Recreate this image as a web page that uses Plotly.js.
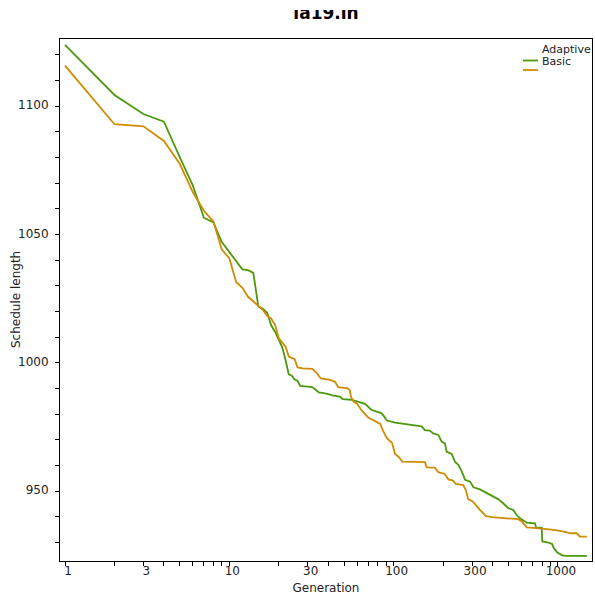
<!DOCTYPE html>
<html>
<head>
<meta charset="utf-8">
<script src="https://cdn.plot.ly/plotly-3.0.1.min.js"></script>
<style>
  html, body { margin: 0; padding: 0; background: #fff; overflow: hidden; }
  #wrap { position: relative; width: 595px; height: 601px; overflow: hidden; }
  #chart { width: 595px; height: 606px; margin-top: -5px; }
  #topmask { position: absolute; left: 0; top: 0; width: 595px; height: 10px; background: #fff; }
</style>
</head>
<body>
<div id="wrap">
  <div id="chart"></div>
  <div id="topmask"></div>
</div>
<script>
// ---- data ----
const adaptiveGen = [1, 2, 3, 4, 5, 6, 7, 8, 9, 10, 12, 13, 14, 15, 16, 17, 18, 19, 21, 22, 23, 24, 25, 26, 27, 32, 35, 39, 43, 47, 49, 55, 60, 67, 73, 84, 87, 91, 102, 131, 148, 155, 166, 174, 187, 196, 205, 210, 226, 236, 248, 260, 272, 292, 306, 335, 367, 403, 432, 464, 498, 535, 561, 587, 645, 725, 735, 796, 802, 875, 921, 944, 991, 1062, 1110, 1500];
const adaptiveLen = [1123.8, 1104.3, 1096.9, 1093.9, 1080, 1069, 1056.5, 1054.7, 1047, 1043, 1036.4, 1036.1, 1035, 1022, 1021, 1019.5, 1014.5, 1012, 1006, 1001, 995.5, 995, 993.5, 993, 991, 990.5, 988.5, 988, 987.2, 986.8, 985.8, 985.6, 985, 984, 981.7, 980.4, 979.3, 977.5, 976.7, 975.8, 975.2, 973.8, 973.6, 972.5, 971.9, 969.3, 968.6, 965.4, 964.4, 961.5, 960.2, 957.6, 954.4, 953.7, 951.5, 950.7, 949.4, 947.9, 946.9, 945.3, 943.4, 942.7, 940.7, 939.4, 937.7, 937.5, 935.9, 935.8, 930.4, 930, 929.4, 927.8, 926.1, 925, 924.8, 924.8];

const basicGen = [1, 2, 3, 4, 5, 6, 7, 8, 9, 10, 11, 12, 13, 14, 16, 17, 18, 19, 20, 22, 23, 25, 26, 28, 32, 34, 36, 41, 44, 46, 52, 54, 55, 57, 60, 63, 67, 70, 83, 86, 91, 98, 102, 107, 113, 155, 159, 178, 187, 205, 215, 230, 239, 265, 275, 284, 303, 318, 335, 365, 397, 487, 573, 602, 646, 740, 855, 940, 1088, 1190, 1300, 1360, 1500];
const basicLen = [1115.7, 1092.9, 1092.1, 1086.4, 1077.4, 1066.4, 1059.2, 1055, 1044.1, 1040.7, 1031.5, 1029.2, 1025.7, 1023.8, 1020.6, 1018.3, 1017.2, 1014.7, 1009.5, 1006.3, 1002.4, 1001.4, 998.2, 997.8, 997.6, 996.1, 993.9, 993.3, 992.6, 990.5, 990.1, 989.4, 986.8, 984.9, 984, 981.9, 980.1, 978.7, 976.2, 973.6, 970.6, 968.7, 964.5, 963.4, 961.5, 961.3, 959.3, 959.2, 957.4, 956.7, 954.6, 954.1, 952.8, 952.4, 950.4, 946.9, 946, 944.2, 942.7, 940.3, 939.9, 939.4, 939.1, 938.2, 935.9, 935.6, 935.3, 934.9, 934.2, 933.6, 933.6, 932.3, 932.3];

const seriesNames = ['Adaptive', 'Basic'];
const seriesColors = ['#4c9a0c', '#cf8c00'];

const xTickVals = [1, 3, 10, 30, 100, 300, 1000];
const xTickText = ['1', '3', '10', '30', '100', '300', '1000'];
const xMinorVals = [2, 4, 5, 6, 7, 8, 9, 20, 40, 50, 60, 70, 80, 90, 200, 400, 500, 600, 700, 800, 900];
const yTickVals = [950, 1000, 1050, 1100];
const yTickText = ['950', '1000', '1050', '1100'];

// ---- layout helpers (pixel -> paper for the plot box 60..592 x 39..561) ----
const L = 60, R = 592, T = 39, B = 561;
const px = x => (x - L) / (R - L);
const py = y => (B - y) / (B - T);

const font = 'DejaVu Sans, Liberation Sans, sans-serif';

const traces = [
  { x: adaptiveGen, y: adaptiveLen, name: seriesNames[0], type: 'scatter', mode: 'lines',
    line: { color: seriesColors[0], width: 1.8 }, showlegend: false, cliponaxis: true },
  { x: basicGen, y: basicLen, name: seriesNames[1], type: 'scatter', mode: 'lines',
    line: { color: seriesColors[1], width: 1.8 }, showlegend: false, cliponaxis: true }
];

const axisCommon = {
  showline: true, linecolor: '#000', linewidth: 1, mirror: true,
  showgrid: false, zeroline: false,
  ticks: 'outside', ticklen: 4, tickwidth: 1, tickcolor: '#000',
  tickfont: { family: font, size: 12, color: '#222' }
};

const layout = {
  width: 595, height: 606,
  margin: { l: L, r: 595 - R, t: T + 5, b: 606 - (B + 5) },
  paper_bgcolor: '#fff', plot_bgcolor: '#fff',
  showlegend: false,
  title: {
    text: 'la19.in',
    font: { family: font, size: 17, color: '#000', weight: 'bold' },
    xref: 'paper', x: 0.5, xanchor: 'center',
    yref: 'container', y: 1 - 18.5 / 606, yanchor: 'middle'
  },
  xaxis: Object.assign({}, axisCommon, {
    type: 'log',
    range: [-0.0304, 3.207],
    tickmode: 'array', tickvals: xTickVals, ticktext: xTickText,
    ticklabelstandoff: -5,
    ticklabelshift: 3,
    minor: { tickmode: 'array', tickvals: xMinorVals, ticks: 'outside', ticklen: 4, tickwidth: 1, tickcolor: '#000', showgrid: false },
    title: { text: 'Generation', font: { family: font, size: 12, color: '#222' }, standoff: 6 },
    automargin: false
  }),
  yaxis: Object.assign({}, axisCommon, {
    range: [922.8, 1126.1],
    tickmode: 'array', tickvals: yTickVals, ticktext: yTickText,
    ticklabelstandoff: 4,
    ticklabelshift: -1,
    minor: { dtick: 10, tick0: 0, ticks: 'outside', ticklen: 4, tickwidth: 1, tickcolor: '#000', showgrid: false },
    automargin: false
  }),
  shapes: [
    { type: 'line', xref: 'paper', yref: 'paper', x0: px(523), x1: px(538), y0: py(60.5), y1: py(60.5),
      line: { color: seriesColors[0], width: 1.8 } },
    { type: 'line', xref: 'paper', yref: 'paper', x0: px(523), x1: px(538), y0: py(70), y1: py(70),
      line: { color: seriesColors[1], width: 1.8 } }
  ],
  annotations: [
    { xref: 'paper', yref: 'paper', x: px(16), y: 0.5, xanchor: 'center', yanchor: 'middle',
      textangle: -90, text: 'Schedule length', showarrow: false,
      font: { family: font, size: 12, color: '#222' } },
    { xref: 'paper', yref: 'paper', x: px(540), y: py(49.5), xanchor: 'left', yanchor: 'middle',
      text: seriesNames[0], showarrow: false, font: { family: font, size: 11, color: '#222' } },
    { xref: 'paper', yref: 'paper', x: px(540), y: py(61.5), xanchor: 'left', yanchor: 'middle',
      text: seriesNames[1], showarrow: false, font: { family: font, size: 11, color: '#222' } }
  ]
};

Plotly.newPlot('chart', traces, layout, { displayModeBar: false, staticPlot: true });
</script>
</body>
</html>
